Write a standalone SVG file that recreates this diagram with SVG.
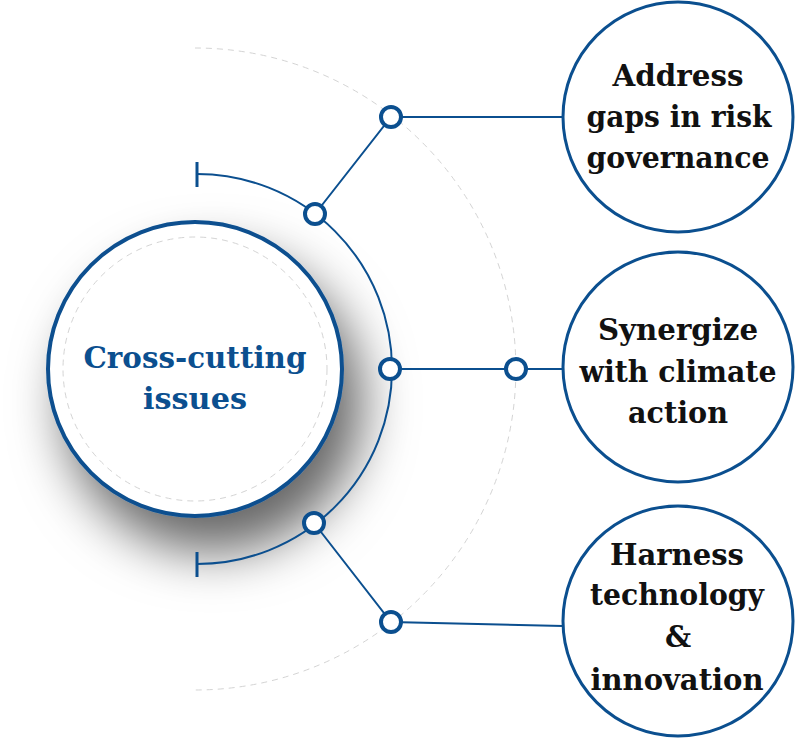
<svg xmlns="http://www.w3.org/2000/svg" width="800" height="738" viewBox="0 0 800 738">
<defs>
<filter id="shadow" x="-50%" y="-50%" width="220%" height="220%">
<feGaussianBlur in="SourceAlpha" stdDeviation="26"/>
<feOffset dx="18" dy="34" result="b"/>
<feFlood flood-color="#000" flood-opacity="0.6"/>
<feComposite in2="b" operator="in"/>
<feMerge><feMergeNode/><feMergeNode in="SourceGraphic"/></feMerge>
</filter>
</defs>
<style>
.blue{stroke:#0b4f8f;fill:none}
.dot{fill:#fff;stroke:#0b4f8f;stroke-width:4}
.dash{fill:none;stroke:#d4d4d4;stroke-width:1;stroke-dasharray:6 5}
.big{fill:#fff;stroke:#0b4f8f;stroke-width:3}
.t{font-family:"DejaVu Serif","Liberation Serif",serif;font-weight:bold;font-size:29px;fill:#111;text-anchor:middle}
.c{fill:#0b4f8f}
</style>
<rect width="800" height="738" fill="#fff"/>
<path class="dash" d="M195,48 A321,321 0 0 1 195,690"/>
<g id="center">
<circle cx="195" cy="369" r="147" fill="#fff" stroke="#0b4f8f" stroke-width="4" filter="url(#shadow)"/>
<circle class="dash" cx="195" cy="369" r="132"/>
<text class="t c" x="195" y="368" textLength="223" lengthAdjust="spacingAndGlyphs">Cross-cutting</text>
<text class="t c" x="195" y="409" textLength="104" lengthAdjust="spacingAndGlyphs">issues</text>
</g>
<g id="connectors">
<path class="blue" stroke-width="2" d="M197,174 A195,195 0 0 1 197,564"/>
<line class="blue" stroke-width="3" x1="197" y1="162" x2="197" y2="187"/>
<line class="blue" stroke-width="3" x1="197" y1="552" x2="197" y2="577"/>
<polyline class="blue" stroke-width="2" points="315,214 391,117 563,117"/>
<polyline class="blue" stroke-width="2" points="390,369 516,369 563,369"/>
<polyline class="blue" stroke-width="2" points="314,523 391,622 563,626"/>
<circle class="dot" cx="315" cy="214" r="10"/>
<circle class="dot" cx="391" cy="117" r="10"/>
<circle class="dot" cx="390" cy="369" r="10"/>
<circle class="dot" cx="516" cy="369" r="10"/>
<circle class="dot" cx="314" cy="523" r="10"/>
<circle class="dot" cx="391" cy="622" r="10"/>
</g>
<g id="node1">
<circle class="big" cx="678" cy="117" r="115"/>
<text class="t" x="678" y="86" textLength="131" lengthAdjust="spacingAndGlyphs">Address</text>
<text class="t" x="679" y="127" textLength="185" lengthAdjust="spacingAndGlyphs">gaps in risk</text>
<text class="t" x="678" y="168" textLength="183" lengthAdjust="spacingAndGlyphs">governance</text>
</g>
<g id="node2">
<circle class="big" cx="678" cy="367" r="115"/>
<text class="t" x="678" y="340" textLength="160" lengthAdjust="spacingAndGlyphs">Synergize</text>
<text class="t" x="678" y="382" textLength="197" lengthAdjust="spacingAndGlyphs">with climate</text>
<text class="t" x="678" y="423" textLength="100" lengthAdjust="spacingAndGlyphs">action</text>
</g>
<g id="node3">
<circle class="big" cx="678" cy="621" r="115"/>
<text class="t" x="677" y="565" textLength="134" lengthAdjust="spacingAndGlyphs">Harness</text>
<text class="t" x="677" y="605" textLength="174" lengthAdjust="spacingAndGlyphs">technology</text>
<text class="t" x="678" y="647">&amp;</text>
<text class="t" x="677" y="690" textLength="173" lengthAdjust="spacingAndGlyphs">innovation</text>
</g>
</svg>
